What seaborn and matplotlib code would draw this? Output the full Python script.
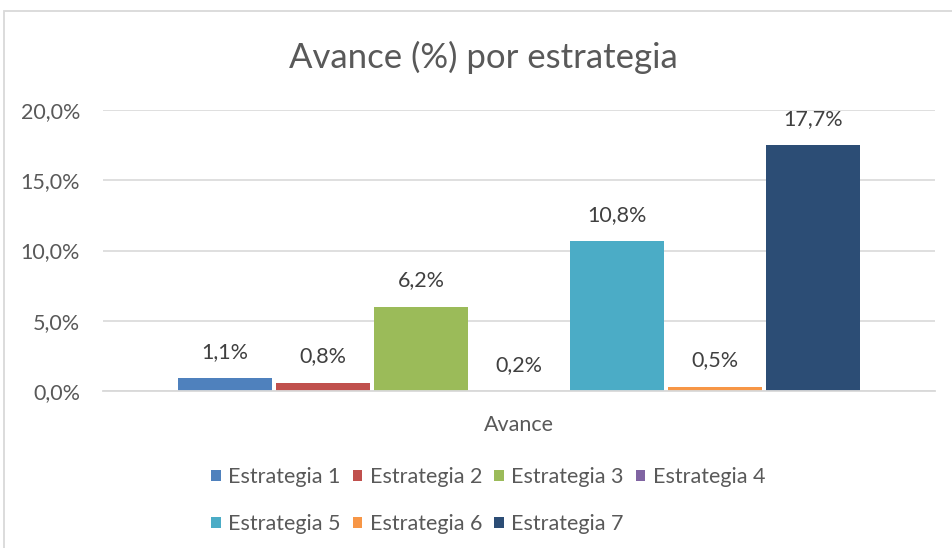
import matplotlib
matplotlib.use("Agg")
import matplotlib.pyplot as plt
import matplotlib.patches as mpatches
import seaborn as sns
import pandas as pd

# ---- data ----
estrategias = ["Estrategia 1", "Estrategia 2", "Estrategia 3", "Estrategia 4",
               "Estrategia 5", "Estrategia 6", "Estrategia 7"]
avance = [0.9, 0.6, 6.0, 0.0, 10.65, 0.3, 17.5]          # bar heights (%)
etiquetas = ["1,1%", "0,8%", "6,2%", "0,2%", "10,8%", "0,5%", "17,7%"]  # data labels
categoria = ["Avance"]
yticks = [0, 5, 10, 15, 20]
ytick_labels = ["0,0%", "5,0%", "10,0%", "15,0%", "20,0%"]
colores = ["#4F81BD", "#C0504D", "#9BBB59", "#8064A2",
           "#4BACC6", "#F79646", "#2C4D75"]
titulo = "Avance (%) por estrategia"

sns.set_theme(style="white")
plt.rcParams['font.family'] = ['Lato', 'DejaVu Sans']
TXT = "#595959"
FS = 15.5

W, H = 953, 548
fig = plt.figure(figsize=(W / 100, H / 100), dpi=100)
fig.patch.set_facecolor("white")

# chart frame (cropped at right/bottom)
frame = mpatches.Rectangle((4 / W, -0.1), 1.2, 1.1 - 11 / H,
                           transform=fig.transFigure, fill=False,
                           edgecolor="#D9D9D9", linewidth=1.3)
fig.patches.append(frame)

ax = fig.add_axes([103 / W, 1 - 391 / H, (935 - 103) / W, (391 - 110) / H])

df = pd.DataFrame({"cat": categoria * len(estrategias),
                   "estrategia": estrategias,
                   "valor": avance})

sns.barplot(data=df, x="cat", y="valor", hue="estrategia",
            hue_order=estrategias, palette=colores, width=0.824, gap=0.04,
            legend=False, ax=ax, linewidth=0, saturation=1)

ax.set_ylim(0, 20)
ax.set_xlim(-0.5, 0.5)
ax.set_yticks(yticks)
ax.set_yticklabels(ytick_labels, color=TXT, fontsize=FS)
ax.yaxis.grid(True, color="#D9D9D9", linewidth=1.2)
ax.set_axisbelow(True)
for s in ["top", "right", "left"]:
    ax.spines[s].set_visible(False)
ax.spines["bottom"].set_color("#D9D9D9")
ax.spines["bottom"].set_linewidth(1.3)
ax.tick_params(axis="y", length=0, pad=16.5)
ax.set_xticks([-0.5, 0.5], minor=True)
ax.tick_params(axis="x", which="minor", length=6, color="#D9D9D9", width=1.3)
ax.set_xticks([0])
ax.set_xticklabels(categoria, color=TXT, fontsize=FS)
ax.tick_params(axis="x", which="major", length=0, pad=17)
ax.set_xlabel("")
ax.set_ylabel("")

# data labels
for cont, lab in zip(ax.containers, etiquetas):
    for p in cont.patches:
        x = p.get_x() + p.get_width() / 2
        y = p.get_height()
        ax.annotate(lab, (x, y), xytext=(0, 19), textcoords="offset points",
                    ha="center", va="center", fontsize=FS, color="#404040")

fig.text(483 / W, 1 - 57 / H, titulo, ha="center", va="center",
         fontsize=25, color=TXT)

# legend: 4 columns, row-major order
order = [0, 4, 1, 5, 2, 6, 3]
handles = [mpatches.Patch(facecolor=colores[i], edgecolor="none") for i in order]
labels = [estrategias[i] for i in order]
fig.legend(handles, labels, ncol=4, loc="upper left",
           bbox_to_anchor=(211 / W, 1 - 467 / H), frameon=False,
           fontsize=FS, labelcolor=TXT, handlelength=0.45, handleheight=0.45,
           handletextpad=0.35, columnspacing=0.55, labelspacing=1.27,
           borderpad=0, borderaxespad=0)

fig.savefig("out.png", dpi=100, facecolor="white")
